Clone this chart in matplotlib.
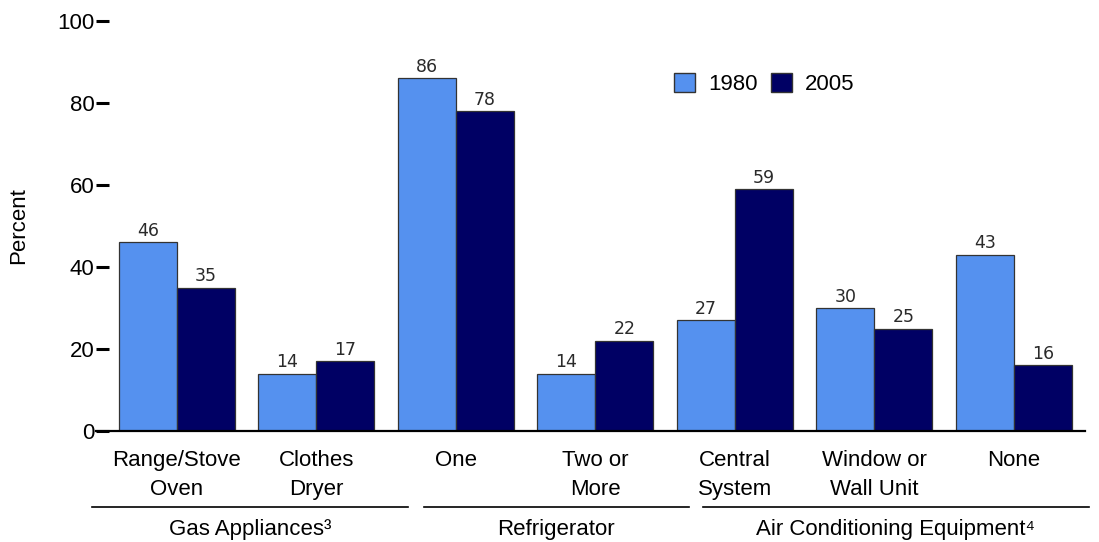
import numpy as np
import matplotlib.pyplot as plt
from matplotlib.patches import Patch
from matplotlib.lines import Line2D
import matplotlib.transforms as mtransforms

plt.rcParams['font.family'] = ['Liberation Sans', 'DejaVu Sans']

# datos
categorias = ['Range/Stove\nOven', 'Clothes\nDryer', 'One', 'Two or\nMore',
              'Central\nSystem', 'Window or\nWall Unit', 'None']
v1980 = [46, 14, 86, 14, 27, 30, 43]
v2005 = [35, 17, 78, 22, 59, 25, 16]
grupos = ['Gas Appliances³', 'Refrigerator', 'Air Conditioning Equipment⁴']
grupo_rango = [(-0.61, 1.66), (1.77, 3.67), (3.77, 6.54)]

c1980 = '#5591EF'
c2005 = '#000064'
fs = 16

fig = plt.figure(figsize=(10.99, 5.42), dpi=100)
ax = fig.add_axes([96/1099, 111/542, 989/1099, 410/542])

x = np.arange(len(categorias))
w = 0.416
b1 = ax.bar(x - w/2, v1980, w, color=c1980, edgecolor='#333333', linewidth=0.9)
b2 = ax.bar(x + w/2, v2005, w, color=c2005, edgecolor='#333333', linewidth=0.9)

for barras in (b1, b2):
    for b in barras:
        ax.text(b.get_x() + b.get_width()/2, b.get_height() + 0.6, str(int(b.get_height())),
                ha='center', va='bottom', fontsize=12.5, family='DejaVu Sans', color='#2a2a2a')

ax.set_xlim(-0.58, 6.51)
ax.set_ylim(0, 100)
ax.set_yticks([0, 20, 40, 60, 80, 100])
ax.tick_params(axis='y', direction='in', length=9, width=2.2, pad=1, labelsize=fs)
ax.set_xticks(x)
ax.set_xticklabels(categorias, fontsize=fs, linespacing=1.45)
ax.tick_params(axis='x', length=0, pad=14)
for s in ['top', 'right', 'left']:
    ax.spines[s].set_visible(False)
ax.spines['bottom'].set_linewidth(1.6)
ax.set_ylabel('Percent', fontsize=fs, labelpad=20)

# lineas de grupos
trans = mtransforms.blended_transform_factory(ax.transData, fig.transFigure)
for nombre, (a, b) in zip(grupos, grupo_rango):
    fig.add_artist(Line2D([a, b], [1 - 507/542] * 2, transform=trans, color='black', lw=1.2))
    fig.text((a + b)/2, 1 - 530/542, nombre, transform=trans, ha='center', va='center', fontsize=fs)

handles = [Patch(facecolor=c1980, edgecolor='#333333'), Patch(facecolor=c2005, edgecolor='#333333')]
ax.legend(handles, ['1980', '2005'], ncol=2, loc='center left', bbox_to_anchor=(0.584, 0.846),
          frameon=False, fontsize=fs, handlelength=0.95, handleheight=0.95,
          handletextpad=0.6, columnspacing=0.6, borderpad=0, borderaxespad=0)

fig.savefig('out.png', dpi=100)
